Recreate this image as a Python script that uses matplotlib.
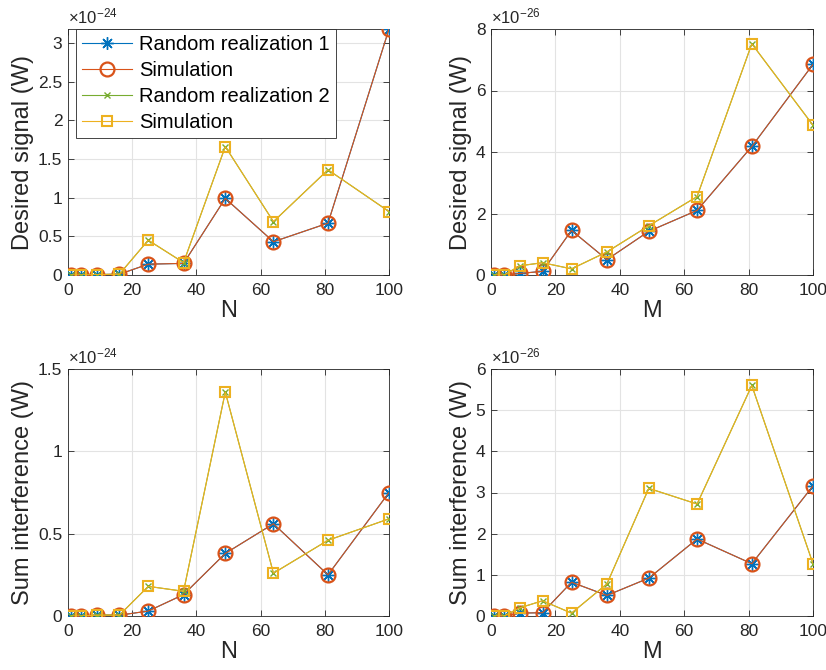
import numpy as np
import matplotlib
matplotlib.use("Agg")
import matplotlib.pyplot as plt
from matplotlib.ticker import FuncFormatter, MultipleLocator

plt.rcParams['font.family'] = ['Liberation Sans', 'DejaVu Sans']
plt.rcParams['mathtext.fontset'] = 'custom'
plt.rcParams['mathtext.rm'] = 'Liberation Sans'
plt.rcParams['mathtext.it'] = 'Liberation Sans:italic'

# x values (number of elements)
n_vals = [1, 4, 9, 16, 25, 36, 49, 64, 81, 100]

# desired signal vs N (x1e-24 W)
sig_n_1 = [0.0, 0.0, 0.005, 0.01, 0.14, 0.15, 0.99, 0.43, 0.67, 3.18]
sig_n_2 = [0.0, 0.0, 0.005, 0.01, 0.45, 0.16, 1.66, 0.69, 1.36, 0.82]
# desired signal vs M (x1e-26 W)
sig_m_1 = [0.0, 0.0, 0.05, 0.12, 1.45, 0.50, 1.42, 2.10, 4.18, 6.85]
sig_m_2 = [0.0, 0.0, 0.30, 0.40, 0.20, 0.75, 1.60, 2.55, 7.52, 4.87]
# sum interference vs N (x1e-24 W)
int_n_1 = [0.0, 0.0, 0.005, 0.005, 0.03, 0.13, 0.38, 0.56, 0.25, 0.75]
int_n_2 = [0.0, 0.0, 0.005, 0.005, 0.18, 0.15, 1.36, 0.26, 0.46, 0.59]
# sum interference vs M (x1e-26 W)
int_m_1 = [0.0, 0.0, 0.07, 0.08, 0.82, 0.50, 0.92, 1.87, 1.27, 3.16]
int_m_2 = [0.0, 0.0, 0.20, 0.37, 0.07, 0.78, 3.10, 2.72, 5.60, 1.27]

labels = ['Random realization 1', 'Simulation', 'Random realization 2', 'Simulation']
blue, orange, yellow, green = '#0072BD', '#D95319', '#EDB120', '#77AC30'
dark = '#262626'

W, H = 826, 670
fig = plt.figure(figsize=(W / 100, H / 100), dpi=100)

panels = [
    # (left, top, right, bottom) px, y1, y2, exponent, ylim, ystep, xlabel, ylabel
    ((68, 29, 389, 275), sig_n_1, sig_n_2, -24, 3.18, 0.5, 'N', 'Desired signal (W)'),
    ((491, 29, 813, 275), sig_m_1, sig_m_2, -26, 8, 2, 'M', 'Desired signal (W)'),
    ((68, 369, 389, 616), int_n_1, int_n_2, -24, 1.5, 0.5, 'N', 'Sum interference (W)'),
    ((491, 369, 813, 616), int_m_1, int_m_2, -26, 6, 1, 'M', 'Sum interference (W)'),
]

asterisk = (8, 2, 0)

axes = []
for (l, t, r, b), y1, y2, ex, ymax, ystep, xl, yl in panels:
    sc = 10.0 ** ex
    ax = fig.add_axes([l / W, 1 - b / H, (r - l) / W, (b - t) / H])
    x = np.array(n_vals)
    a1 = np.array(y1) * sc
    a2 = np.array(y2) * sc
    ax.plot(x, a1, color=blue, lw=0.8, marker=asterisk, ms=9, mew=1.0, zorder=3)
    ax.plot(x, a1, color=orange, lw=0.8, marker='o', ms=10, mfc='none', mew=1.6, zorder=3)
    ax.plot(x, a2, color=green, lw=0.8, marker='x', ms=5, mew=1.0, zorder=3)
    ax.plot(x, a2, color=yellow, lw=0.8, marker='s', ms=7, mfc='none', mew=1.5, zorder=3)
    ax.set_xlim(0, 100)
    ax.set_ylim(0, ymax * sc)
    ax.xaxis.set_major_locator(MultipleLocator(20))
    ax.yaxis.set_major_locator(MultipleLocator(ystep * sc))
    ax.yaxis.set_major_formatter(FuncFormatter(lambda v, p, sc=sc: f'{round(v / sc, 6):g}'))
    ax.text(0, 1.012, r'$\times10^{%d}$' % ex, transform=ax.transAxes,
            fontsize=12, color=dark, ha='left', va='bottom')
    ax.grid(True, color='#e3e3e3', lw=0.8)
    ax.set_axisbelow(True)
    ax.tick_params(direction='in', top=True, right=True, labelsize=12.5,
                   colors=dark, length=4, width=0.6, pad=4)
    ax.tick_params(axis='x', pad=6)
    for s in ax.spines.values():
        s.set_color(dark)
        s.set_linewidth(0.6)
    ax.set_xlabel(xl, fontsize=17, color=dark, labelpad=1)
    ax.set_ylabel(yl, fontsize=17, color=dark, labelpad=3)
    axes.append(ax)

leg = axes[0].legend(labels, loc='upper left', bbox_to_anchor=(0.025, 1.0),
                     fontsize=14.5, handlelength=2.5, borderpad=0.3, labelspacing=0.34,
                     handletextpad=0.35, fancybox=False, framealpha=1,
                     edgecolor=dark, borderaxespad=0.0)
leg.get_frame().set_linewidth(0.6)

fig.savefig('out.png', dpi=100)
